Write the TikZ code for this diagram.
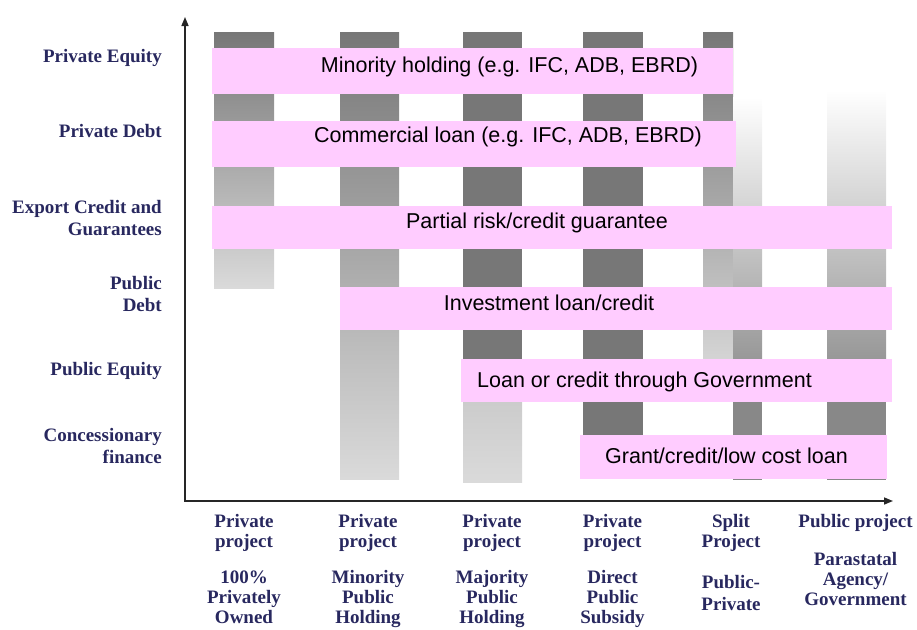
\documentclass[tikz,border=0pt]{standalone}
\usepackage{fontspec}
\setmainfont{Liberation Serif}
\setsansfont{Liberation Sans}
\usepackage{xcolor}
\usepackage{tikz}
\usetikzlibrary{arrows.meta}

\definecolor{labnavy}{RGB}{40,40,95}
\definecolor{bandpink}{RGB}{255,204,255}
\definecolor{bardark}{HTML}{777777}
\definecolor{barmid}{HTML}{888888}
\definecolor{barpale}{HTML}{C8C8C8}
\definecolor{barlight}{HTML}{DADADA}

\begin{document}
\begin{tikzpicture}[x=1pt, y=-1pt,
  band/.style={fill=bandpink},
  bandtxt/.style={anchor=base, inner sep=0, font=\sffamily\fontsize{21.5}{24}\selectfont},
  ylab/.style={anchor=base east, align=right, inner sep=0, text=labnavy, font=\bfseries\fontsize{19}{22}\selectfont},
  xlab/.style={anchor=base, align=center, inner sep=0, text=labnavy, font=\bfseries\fontsize{19}{20}\selectfont},
  axis/.style={line width=1.5pt, draw=black!85, {Triangle[length=9pt, width=7pt]}-{Triangle[length=9pt, width=7pt]}}]

\useasboundingbox (0,0) rectangle (917,629);

% Gray columns
\fill[top color=bardark, bottom color=barlight] (214,32) rectangle (274,288);
\fill[top color=bardark, bottom color=barlight] (340,32) rectangle (399,479);
\fill[bardark] (463,32) rectangle (522,380);
\fill[top color=barpale, bottom color=barlight] (463,380) rectangle (522,482);
\fill[bardark] (583,32) rectangle (643,479);
\fill[top color=bardark, bottom color=barlight] (703,32) rectangle (733,380);
\fill[top color=white, bottom color=barmid] (733,97) rectangle (762,400);
\fill[barmid] (733,400) rectangle (762,480);
\fill[top color=white, bottom color=barmid] (827,90) rectangle (886,400);
\fill[barmid] (827,400) rectangle (886,480);

% Pink bands
\fill[band] (212,48) rectangle (733,94);
\fill[band] (212,121) rectangle (736,167);
\fill[band] (212,206) rectangle (892,249);
\fill[band] (340,287) rectangle (892,330);
\fill[band] (461,359) rectangle (892,402);
\fill[band] (580,435) rectangle (887,479);

% Band texts
\node[bandtxt] (minority) at (509.5,72) {Minority holding (e.g. IFC, ADB, EBRD)};
\node[bandtxt] (commercial) at (508,142) {Commercial loan (e.g. IFC, ADB, EBRD)};
\node[bandtxt] (guarantee) at (537,228) {Partial risk/credit guarantee};
\node[bandtxt] (investment) at (549,310) {Investment loan/credit};
\node[bandtxt] (govloan) at (644.5,387) {Loan or credit through Government};
\node[bandtxt] (grant) at (726.5,463) {Grant/credit/low cost loan};

% Axes
\coordinate (ytip) at (185,17);
\coordinate (xtip) at (893,501);
\draw[axis] (ytip) |- (xtip);

% Finance labels (base = last line)
\node[ylab] (pe) at (162,62) {Private Equity};
\node[ylab] (pd) at (162,137) {Private Debt};
\node[ylab] (ecg) at (162,235) {Export Credit and\\Guarantees};
\node[ylab] (pubd) at (162,311) {Public\\Debt};
\node[ylab] (pube) at (162,375) {Public Equity};
\node[ylab] (conc) at (162,463) {Concessionary\\finance};

% Project labels
\node[xlab] (p1) at (244,547) {Private\\project};
\node[xlab] (p2) at (368,547) {Private\\project};
\node[xlab] (p3) at (492,547) {Private\\project};
\node[xlab] (p4) at (612.5,547) {Private\\project};
\node[xlab] (p5) at (731,547) {Split\\Project};
\node[xlab] (p6) at (855.5,527) {Public project};

\node[xlab] (o1) at (244,623) {100\%\\Privately\\Owned};
\node[xlab] (o2) at (368,623) {Minority\\Public\\Holding};
\node[xlab] (o3) at (492,623) {Majority\\Public\\Holding};
\node[xlab] (o4) at (612.5,623) {Direct\\Public\\Subsidy};
\node[xlab] (o5) at (731,610) {Public-\\[2pt]Private};
\node[xlab] (o6) at (855.5,605) {Parastatal\\Agency/\\Government};

\end{tikzpicture}
\end{document}
